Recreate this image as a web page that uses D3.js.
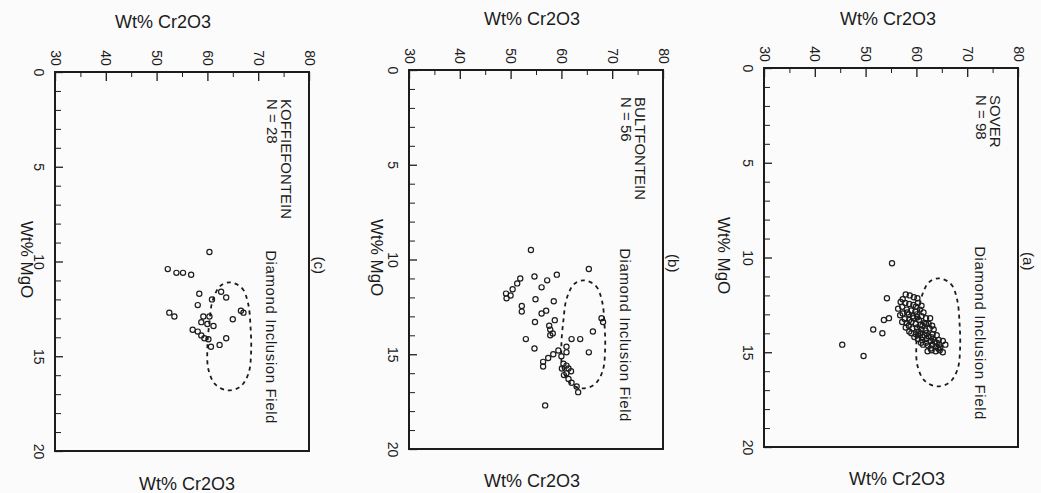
<!DOCTYPE html>
<html>
<head>
<meta charset="utf-8">
<script src="https://cdn.jsdelivr.net/npm/d3@7"></script>
<style>
  body { margin: 0; background: #fbfbfb; }
  svg { display: block; font-family: "Liberation Sans", Arial, Helvetica, sans-serif; }
</style>
</head>
<body>
<div id="canvas"></div>
<script>
// axis ticks
var crTicks = [30, 40, 50, 60, 70, 80];
var crMinor = [35, 45, 55, 65, 75];
var mgoTicks = [0, 5, 10, 15, 20];

// panels, left to right
var panelTags = ["(c)", "(b)", "(a)"];
var localities = ["KOFFIEFONTEIN", "BULTFONTEIN", "SOVER"];
var counts = [28, 56, 98];

// [MgO, Cr2O3] wt%
var koffiefontein = [
  [9.5,60.4],[10.4,52.2],[10.6,53.9],[10.6,55.2],[10.7,56.8],[11.7,58.4],[11.6,62.7],
  [11.9,63.7],[12.3,58.1],[12.0,60.9],[12.7,52.5],[12.9,53.5],[12.6,66.6],[12.7,67.1],
  [12.9,59.2],[12.9,60.4],[13.05,65.0],[13.2,58.8],[13.4,61.2],[13.6,57.1],[13.7,58.1],
  [13.9,58.8],[14.05,59.4],[14.05,63.7],[14.4,62.4],[14.5,60.7],[14.1,60.2],[13.3,60.0]
];

var bultfontein = [
  [9.5,54.0],[10.5,65.4],[10.8,59.1],[10.9,54.7],[11.0,51.9],[11.1,57.2],[11.26,51.3],
  [11.47,56.1],[11.57,50.4],[11.8,49.1],[12.05,49.2],[12.1,54.9],[12.2,58.5],[12.45,52.2],
  [12.75,52.2],[12.7,57.0],[12.85,56.1],[13.1,67.9],[13.3,68.2],[13.2,58.7],[13.3,54.8],
  [13.7,57.8],[14.0,57.8],[13.9,58.3],[13.8,66.2],[14.2,53.0],[14.2,62.0],[14.2,63.7],
  [14.6,61.0],[14.9,61.0],[14.7,54.7],[14.9,65.4],[14.8,59.4],[15.0,58.4],[15.2,57.4],
  [15.4,56.4],[15.65,56.4],[15.5,60.4],[15.6,61.0],[15.75,61.4],[15.75,60.1],[16.0,61.0],
  [16.3,61.4],[16.5,62.0],[16.7,63.0],[17.0,63.3],[17.7,56.8],[15.1,60.0],[15.9,61.9],
  [11.9,50.0],[13.5,57.6],[16.1,60.5]
];

var sover = [
  [10.3,55.2],[12.15,54.2],[13.3,53.6],[13.2,54.6],[13.8,51.5],[14.0,53.3],[14.6,45.4],[15.2,49.6],
  [11.95,57.9],[12.0,58.7],[12.1,59.5],[12.2,57.3],[12.15,60.2],
  [12.35,56.9],[12.4,57.8],[12.45,58.6],[12.5,59.4],[12.4,60.3],[12.55,61.0],[12.6,57.2],
  [12.7,56.4],[12.75,58.1],[12.8,59.0],[12.85,59.8],[12.75,60.7],[12.9,61.4],[12.95,57.3],[13.0,58.5],
  [13.05,56.8],[13.1,59.3],[13.15,60.2],[13.1,61.0],[13.2,61.9],[13.25,57.7],[13.3,58.6],[13.2,62.7],[13.3,60.5],
  [13.4,57.2],[13.45,58.1],[13.4,59.0],[13.5,59.9],[13.55,60.8],[13.45,61.6],[13.5,62.4],[13.6,63.1],[13.6,58.5],
  [13.7,57.9],[13.75,59.2],[13.7,60.1],[13.8,61.0],[13.85,61.8],[13.75,62.6],[13.8,63.4],[13.9,58.6],[13.9,60.4],
  [14.0,59.0],[14.05,59.9],[14.0,60.8],[14.1,61.6],[14.15,62.4],[14.05,63.2],[14.1,64.0],[14.2,59.6],[14.2,61.2],[14.2,62.9],
  [14.3,60.3],[14.35,61.1],[14.3,62.0],[14.4,62.8],[14.45,63.6],[14.35,64.4],[14.4,65.2],[14.5,60.9],[14.5,61.9],[14.5,64.0],
  [14.6,61.3],[14.65,62.3],[14.6,63.1],[14.7,63.9],[14.75,64.7],[14.6,65.7],[14.8,62.8],[14.8,64.3],
  [14.9,63.0],[14.95,63.8],[14.9,64.6],[15.0,65.2],[14.95,62.2],
  [12.6,59.9],[13.0,60.1],[13.6,61.2],[14.0,62.0],[14.3,63.3],[14.6,64.5],[13.2,59.4],[12.9,58.2],[14.1,60.3],[13.5,61.9]
];

// diamond inclusion field outline [MgO, Cr2O3]
var diamondField = [
  [11.1,64.5],[11.4,66.8],[12.2,68.0],[13.5,68.5],[14.8,68.6],[15.9,68.1],[16.6,66.5],
  [16.8,64.0],[16.5,61.6],[15.7,60.2],[14.5,60.0],[13.2,60.4],[12.1,61.0],[11.3,62.5]
];

var datasets = [koffiefontein, bultfontein, sover];

// page placement of each panel (frame left/top, titles)
var layout = [
  {left: 55,  top: 72, topTitleX: 163, topTitleY: 28, botTitleX: 187, botTitleY: 490, mgoTitleDx: 28},
  {left: 409, top: 70, topTitleX: 532, topTitleY: 25, botTitleX: 532, botTitleY: 487, mgoTitleDx: 32},
  {left: 764, top: 68, topTitleX: 888, topTitleY: 25, botTitleX: 897, botTitleY: 485, mgoTitleDx: 40}
];

var W = 1041, H = 493;
var pw = 254, ph = 379;
var ink = "#1c1c1c";

var svg = d3.select("#canvas").append("svg")
  .attr("width", W)
  .attr("height", H);

layout.forEach(function(L, i) {
  var x = d3.scaleLinear().domain([30, 80]).range([0, pw]);
  var y = d3.scaleLinear().domain([0, 20]).range([0, ph]);

  var g = svg.append("g")
    .attr("transform", "translate(" + L.left + "," + L.top + ")");

  // minor ticks
  g.append("g")
    .call(d3.axisTop(x).tickValues(crMinor).tickSize(-5).tickFormat(""))
    .call(function(a) { a.select(".domain").remove(); })
    .attr("color", ink);
  g.append("g")
    .call(d3.axisLeft(y).tickValues(d3.range(1, 20).filter(function(v) { return v % 5; }))
      .tickSize(-6).tickFormat(""))
    .call(function(a) { a.select(".domain").remove(); })
    .attr("color", ink);

  // Cr2O3 axis along the top, labels turned
  var xa = g.append("g")
    .call(d3.axisTop(x).tickValues(crTicks).tickSizeInner(-9).tickSizeOuter(0))
    .attr("color", ink)
    .attr("font-size", 14)
    .attr("font-family", null);
  xa.select(".domain").remove();
  xa.selectAll(".tick line").attr("stroke-width", 1.3);
  xa.selectAll(".tick text")
    .attr("y", null)
    .attr("dy", "0.35em")
    .attr("text-anchor", "middle")
    .attr("transform", "translate(0,-14) rotate(90)");

  // MgO axis along the left
  var ya = g.append("g")
    .call(d3.axisLeft(y).tickValues(mgoTicks).tickSizeInner(-8).tickSizeOuter(0))
    .attr("color", ink)
    .attr("font-size", 14)
    .attr("font-family", null);
  ya.select(".domain").remove();
  ya.selectAll(".tick line").attr("stroke-width", 1.3);
  ya.selectAll(".tick text")
    .attr("x", null)
    .attr("dy", "0.35em")
    .attr("text-anchor", "middle")
    .attr("transform", "translate(-16,0) rotate(90)");

  // frame
  g.append("rect")
    .attr("width", pw)
    .attr("height", ph)
    .attr("fill", "none")
    .attr("stroke", ink)
    .attr("stroke-width", 2);

  // diamond inclusion field
  var line = d3.line()
    .x(function(d) { return x(d[1]); })
    .y(function(d) { return y(d[0]); })
    .curve(d3.curveCatmullRomClosed);
  g.append("path")
    .datum(diamondField)
    .attr("d", line)
    .attr("fill", "none")
    .attr("stroke", ink)
    .attr("stroke-width", 1.8)
    .attr("stroke-dasharray", "4,4");

  // analyses
  g.selectAll(".pt")
    .data(datasets[i])
    .enter().append("circle")
      .attr("class", "pt")
      .attr("cx", function(d) { return x(d[1]); })
      .attr("cy", function(d) { return y(d[0]); })
      .attr("r", 2.6)
      .attr("fill", "none")
      .attr("stroke", ink)
      .attr("stroke-width", 1.2);

  // turned texts
  function turned(tx, ty, str, size, anchor) {
    return g.append("text")
      .attr("transform", "translate(" + tx + "," + ty + ") rotate(90)")
      .attr("dy", "0.35em")
      .attr("text-anchor", anchor || "start")
      .attr("font-size", size)
      .attr("fill", ink)
      .text(str);
  }

  turned(pw - 23, 27, localities[i], 15);
  turned(pw - 37, 27, "N = " + counts[i], 15);
  turned(pw - 38, y(9.4), "Diamond Inclusion Field", 15).attr("letter-spacing", 0.6);
  turned(pw + 10, y(10.2), panelTags[i], 15, "middle");
  turned(-L.mgoTitleDx, y(9.9), "Wt% MgO", 17, "middle");

  // upright titles
  svg.append("text")
    .attr("x", L.topTitleX).attr("y", L.topTitleY)
    .attr("text-anchor", "middle")
    .attr("font-size", 18)
    .attr("fill", ink)
    .text("Wt% Cr2O3");
  svg.append("text")
    .attr("x", L.botTitleX).attr("y", L.botTitleY)
    .attr("text-anchor", "middle")
    .attr("font-size", 18)
    .attr("fill", ink)
    .text("Wt% Cr2O3");
});
</script>
</body>
</html>
